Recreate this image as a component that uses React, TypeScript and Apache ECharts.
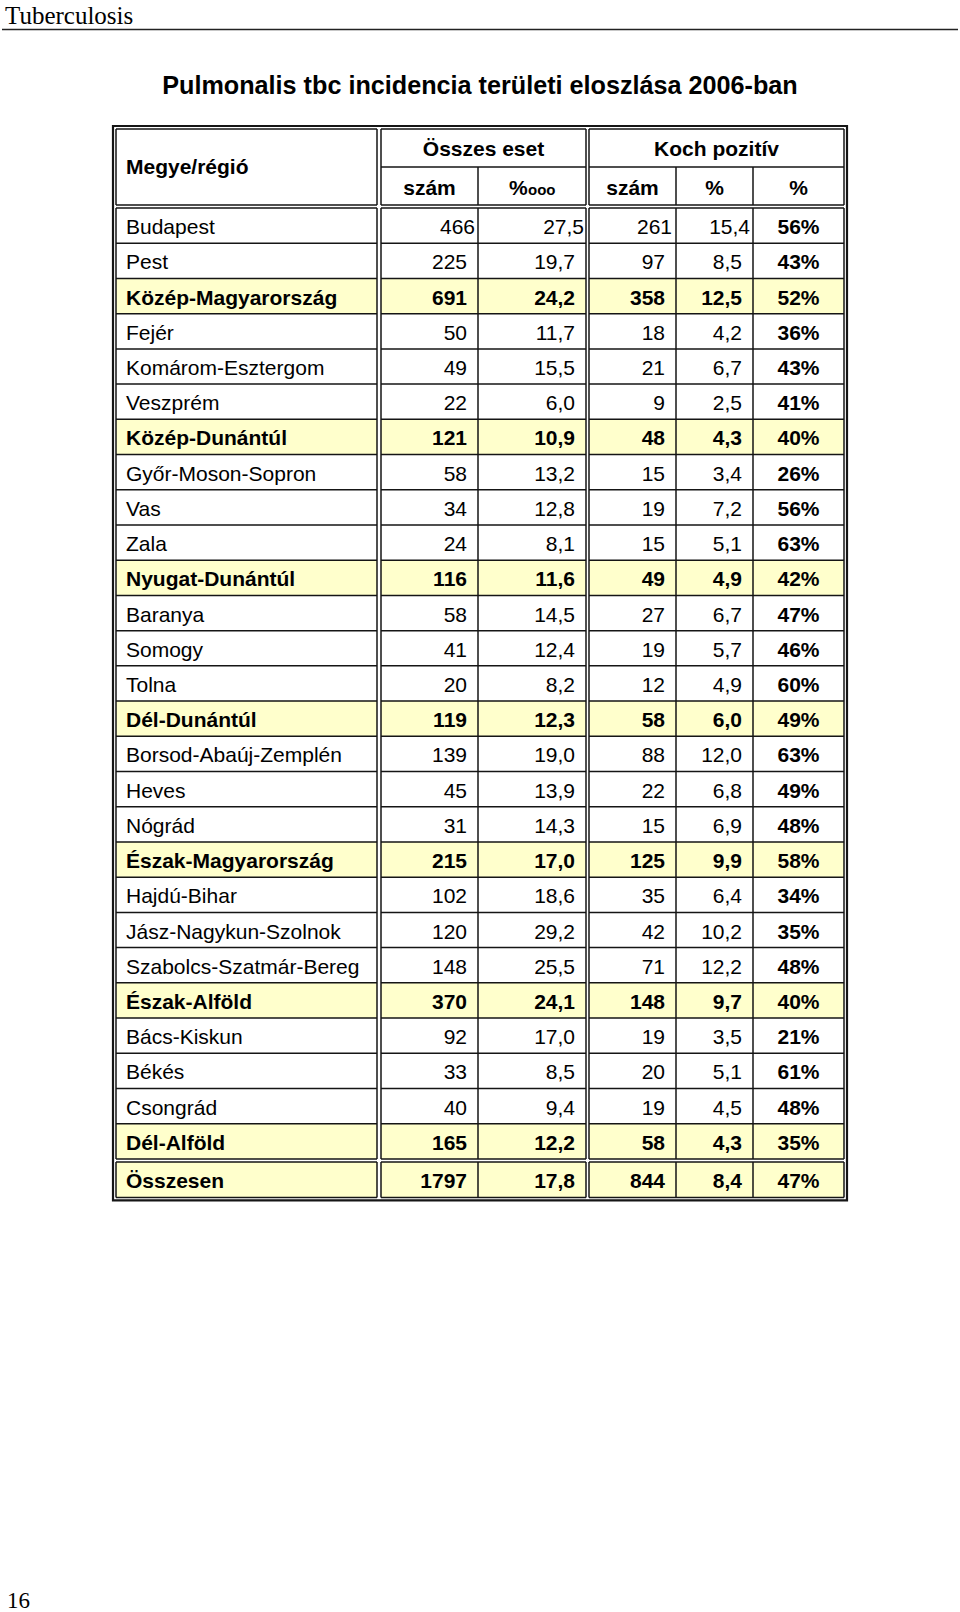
import React, { useEffect, useRef } from 'react';
import * as echarts from 'echarts';

const runningHeader = 'Tuberculosis';
const pageNumber = '16';
const title = 'Pulmonalis tbc incidencia területi eloszlása 2006-ban';
const firstHeader = 'Megye/régió';
const groupHeaders = ['Összes eset', 'Koch pozitív'];
const subHeaders = ['szám', '%', 'szám', '%', '%'];
const perTenThousandSuffix = 'ooo';

const regions = [
  'Budapest', 'Pest', 'Közép-Magyarország', 'Fejér', 'Komárom-Esztergom', 'Veszprém',
  'Közép-Dunántúl', 'Győr-Moson-Sopron', 'Vas', 'Zala', 'Nyugat-Dunántúl', 'Baranya',
  'Somogy', 'Tolna', 'Dél-Dunántúl', 'Borsod-Abaúj-Zemplén', 'Heves', 'Nógrád',
  'Észak-Magyarország', 'Hajdú-Bihar', 'Jász-Nagykun-Szolnok', 'Szabolcs-Szatmár-Bereg',
  'Észak-Alföld', 'Bács-Kiskun', 'Békés', 'Csongrád', 'Dél-Alföld', 'Összesen',
];
const cases = [466, 225, 691, 50, 49, 22, 121, 58, 34, 24, 116, 58, 41, 20, 119, 139, 45, 31, 215, 102, 120, 148, 370, 92, 33, 40, 165, 1797];
const rates = [27.5, 19.7, 24.2, 11.7, 15.5, 6.0, 10.9, 13.2, 12.8, 8.1, 11.6, 14.5, 12.4, 8.2, 12.3, 19.0, 13.9, 14.3, 17.0, 18.6, 29.2, 25.5, 24.1, 17.0, 8.5, 9.4, 12.2, 17.8];
const kochCases = [261, 97, 358, 18, 21, 9, 48, 15, 19, 15, 49, 27, 19, 12, 58, 88, 22, 15, 125, 35, 42, 71, 148, 19, 20, 19, 58, 844];
const kochRates = [15.4, 8.5, 12.5, 4.2, 6.7, 2.5, 4.3, 3.4, 7.2, 5.1, 4.9, 6.7, 5.7, 4.9, 6.0, 12.0, 6.8, 6.9, 9.9, 6.4, 10.2, 12.2, 9.7, 3.5, 5.1, 4.5, 4.3, 8.4];
const kochPcts = [56, 43, 52, 36, 43, 41, 40, 26, 56, 63, 42, 47, 46, 60, 49, 63, 49, 48, 58, 34, 35, 48, 40, 21, 61, 48, 35, 47];
const regionTotals = ['Közép-Magyarország', 'Közép-Dunántúl', 'Nyugat-Dunántúl', 'Dél-Dunántúl', 'Észak-Magyarország', 'Észak-Alföld', 'Dél-Alföld', 'Összesen'];

const SANS = '"Liberation Sans", Arial, sans-serif';
const SERIF = '"Liberation Serif", "Times New Roman", serif';
const LINE = '#151515';
const YELLOW = '#ffffcc';

const fmt = (v: number) => v.toFixed(1).replace('.', ',');

export default function App() {
  const ref = useRef<HTMLDivElement>(null);
  useEffect(() => {
    document.body.style.margin = '0';
    const chart = echarts.init(ref.current!, null, { renderer: 'svg' });
    const els: any[] = [];
    const text = (x: number, y: number, t: string, o: any = {}) =>
      els.push({
        type: 'text', x, y, z: 3,
        style: {
          text: t, fill: '#000', fontSize: o.size ?? 21, fontFamily: o.family ?? SANS,
          fontWeight: o.bold ? 'bold' : 'normal', align: o.align ?? 'left', verticalAlign: 'middle',
        },
      });
    const line = (x1: number, y1: number, x2: number, y2: number, w = 1.5, c = LINE) =>
      els.push({ type: 'line', z: 2, shape: { x1, y1, x2, y2 }, style: { stroke: c, lineWidth: w } });
    const rect = (x: number, y: number, w: number, h: number, fill: string) =>
      els.push({ type: 'rect', z: 1, shape: { x, y, width: w, height: h }, style: { fill } });

    // running header & page number
    text(5, 15, runningHeader, { family: SERIF, size: 25 });
    line(2, 29.5, 958, 29.5, 1.5, '#222');
    text(7, 1600, pageNumber, { family: SERIF, size: 23 });
    text(480, 85, title, { bold: true, size: 25.2, align: 'center' });

    // table geometry
    const X = { x0: 116, c1: 377, c2: 381, c3: 478, c4: 586, c5: 589, c6: 676, c7: 753, x1: 844 };
    const groups: [number, number][] = [[X.x0, X.c1], [X.c2, X.c4], [X.c5, X.x1]];
    const hTop = 129, hMid = 167, hBot = 205;
    const bodyTop = 208, rowH = 35.22;
    const nBody = regions.length - 1;
    const bodyBot = bodyTop + nBody * rowH;
    const totTop = bodyBot + 3, totBot = totTop + 35.5;

    // outer border
    els.push({ type: 'rect', z: 2, shape: { x: 113, y: 126, width: 734, height: totBot + 3 - 126 }, style: { fill: 'none', stroke: LINE, lineWidth: 2.2 } });

    // yellow fills
    regions.forEach((r, i) => {
      if (!regionTotals.includes(r)) return;
      const top = i < nBody ? bodyTop + i * rowH : totTop;
      const h = i < nBody ? rowH : totBot - totTop;
      groups.forEach(([a, b]) => rect(a, top, b - a, h, YELLOW));
    });

    // horizontal lines
    const hLines = [hTop, hBot, bodyTop, bodyBot, totTop, totBot];
    for (let i = 1; i < nBody; i++) hLines.push(bodyTop + i * rowH);
    hLines.forEach((y) => groups.forEach(([a, b]) => line(a, y, b, y)));
    line(X.c2, hMid, X.c4, hMid);
    line(X.c5, hMid, X.x1, hMid);

    // vertical lines
    const bands: [number, number][] = [[hTop, hBot], [bodyTop, bodyBot], [totTop, totBot]];
    bands.forEach(([t, b]) => {
      [X.x0, X.c1, X.c2, X.c4, X.c5, X.x1].forEach((x) => line(x, t, x, b));
    });
    [[hMid, hBot], [bodyTop, bodyBot], [totTop, totBot]].forEach(([t, b]) => {
      [X.c3, X.c6, X.c7].forEach((x) => line(x, t, x, b));
    });

    // header texts
    text(126, 166, firstHeader, { bold: true, size: 21 });
    text((X.c2 + X.c4) / 2, 148, groupHeaders[0], { bold: true, size: 21, align: 'center' });
    text((X.c5 + X.x1) / 2, 148, groupHeaders[1], { bold: true, size: 21, align: 'center' });
    const subCenters = [(X.c2 + X.c3) / 2, (X.c3 + X.c4) / 2, (X.c5 + X.c6) / 2, (X.c6 + X.c7) / 2, (X.c7 + X.x1) / 2];
    subHeaders.forEach((s, k) => {
      if (k === 1) {
        // "%" followed by small "ooo" sitting on the baseline
        const start = subCenters[k] - 23;
        text(start, 187, s, { bold: true, size: 21 });
        text(start + 19, 189.2, perTenThousandSuffix, { bold: true, size: 15 });
      } else {
        text(subCenters[k], 187, s, { bold: true, size: 21, align: 'center' });
      }
    });

    // body texts
    regions.forEach((r, i) => {
      const top = i < nBody ? bodyTop + i * rowH : totTop;
      const h = i < nBody ? rowH : totBot - totTop;
      const cy = top + h / 2 + 1;
      const bold = regionTotals.includes(r);
      const tight = i === 0;
      text(126, cy, r, { bold });
      text(tight ? 475 : 467, cy, String(cases[i]), { bold, align: 'right' });
      text(tight ? 584 : 575, cy, fmt(rates[i]), { bold, align: 'right' });
      text(tight ? 672 : 665, cy, String(kochCases[i]), { bold, align: 'right' });
      text(tight ? 750 : 742, cy, fmt(kochRates[i]), { bold, align: 'right' });
      text((X.c7 + X.x1) / 2, cy, kochPcts[i] + '%', { bold: true, align: 'center' });
    });

    chart.setOption({ animation: false, graphic: { elements: els } });
    return () => chart.dispose();
  }, []);
  return <div ref={ref} style={{ width: 960, height: 1612 }} />;
}
